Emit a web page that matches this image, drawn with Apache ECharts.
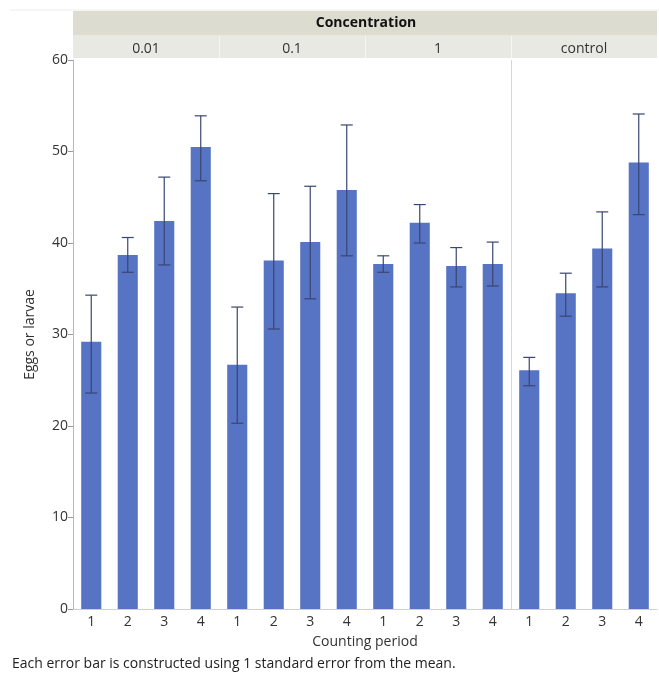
<!DOCTYPE html>
<html>
<head>
<meta charset="utf-8">
<script src="https://cdn.jsdelivr.net/npm/echarts@6/dist/echarts.min.js"></script>
<style>
  html, body { margin: 0; padding: 0; background: #fff; overflow: hidden; }
  #chart { width: 659px; height: 679px; }
</style>
</head>
<body>
<div id="chart"></div>
<script>
// groups and periods
const groups = ['0.01', '0.1', '1', 'control']
const periods = ['1', '2', '3', '4']

// means, one entry per (group, period)
const means = [
  29.2, 38.7, 42.4, 50.5,
  26.7, 38.1, 40.1, 45.8,
  37.7, 42.2, 37.5, 37.7,
  26.1, 34.5, 39.4, 48.8
]
// error bar ends (mean +/- 1 SE)
const upper = [
  34.3, 40.6, 47.2, 53.9,
  33.0, 45.4, 46.2, 52.9,
  38.6, 44.2, 39.5, 40.1,
  27.5, 36.7, 43.4, 54.1
]
const lower = [
  23.6, 36.8, 37.6, 46.8,
  20.3, 30.6, 33.9, 38.6,
  36.8, 40.0, 35.2, 35.3,
  24.4, 32.0, 35.2, 43.1
]

const yTicks = { min: 0, max: 60, interval: 10 }

let categories = []
groups.forEach(() => periods.forEach(p => categories.push(p)))

const font = '"Open Sans", "Noto Sans", sans-serif'

const chart = echarts.init(document.getElementById('chart'))

const option = {
  backgroundColor: '#fff',
  animation: false,
  textStyle: { fontFamily: font },
  grid: { left: 73, right: 2, top: 60, bottom: 70, show: false, borderWidth: 0 },
  graphic: [
    { type: 'line', shape: { x1: 10, y1: 10, x2: 659, y2: 10 }, style: { stroke: '#ececec', lineWidth: 1 } },
    { type: 'rect', shape: { x: 73, y: 11, width: 584, height: 24 }, style: { fill: '#dcdcd1' } },
    { type: 'rect', shape: { x: 73, y: 35, width: 584, height: 23 }, style: { fill: '#e9e9e3' } },
    // white strip at the far right edge of the plot
    { type: 'rect', shape: { x: 656, y: 58, width: 3, height: 550 }, style: { fill: '#fff' }, z: 100 },
    {
      type: 'text', x: 366, y: 23,
      style: { text: 'Concentration', font: 'bold 14px ' + font, fill: '#111', align: 'center', verticalAlign: 'middle' }
    },
    {
      type: 'text', x: 12, y: 664,
      style: { text: 'Each error bar is constructed using 1 standard error from the mean.', font: '14px ' + font, fill: '#222', verticalAlign: 'middle' }
    }
  ],
  xAxis: [
    {
      type: 'category',
      data: categories,
      name: 'Counting period',
      nameLocation: 'middle',
      nameGap: 26,
      nameTextStyle: { fontSize: 14, color: '#333' },
      axisLine: { lineStyle: { color: '#d0d0d0' } },
      axisTick: { show: false },
      axisLabel: { fontSize: 14, color: '#333', margin: 6 },
      splitLine: { show: false },
      splitArea: { show: false }
    },
    {
      type: 'category',
      data: groups,
      position: 'top',
      axisLine: { show: false },
      axisTick: { show: false },
      axisLabel: { fontSize: 14, color: '#333', margin: 4 },
      splitLine: { show: false },
      splitArea: { show: false }
    }
  ],
  yAxis: {
    type: 'value',
    min: yTicks.min,
    max: yTicks.max,
    interval: yTicks.interval,
    name: 'Eggs or larvae',
    nameLocation: 'middle',
    nameGap: 36,
    nameTextStyle: { fontSize: 14, color: '#333' },
    axisLine: { show: true, lineStyle: { color: '#b8b8b8' } },
    axisTick: { show: true, length: 5, lineStyle: { color: '#999' } },
    axisLabel: { fontSize: 14, color: '#333', margin: 5 },
    splitLine: { show: false }
  },
  series: [
    {
      type: 'bar',
      data: means,
      barWidth: '55%',
      itemStyle: { color: '#5673c4' }
    },
    {
      type: 'custom',
      data: means.map((m, i) => [i, lower[i], upper[i]]),
      z: 10,
      renderItem: function (params, api) {
        const idx = api.value(0)
        const top = api.coord([idx, api.value(2)])
        const bot = api.coord([idx, api.value(1)])
        const half = 6
        const st = { stroke: '#3a4670', lineWidth: 1.2 }
        return {
          type: 'group',
          children: [
            { type: 'line', shape: { x1: top[0], y1: top[1], x2: bot[0], y2: bot[1] }, style: st },
            { type: 'line', shape: { x1: top[0] - half, y1: top[1], x2: top[0] + half, y2: top[1] }, style: st },
            { type: 'line', shape: { x1: bot[0] - half, y1: bot[1], x2: bot[0] + half, y2: bot[1] }, style: st }
          ]
        }
      }
    }
  ]
}

option && chart.setOption(option)

// panel boundaries: light dividers in the sub-header, one thin line in the plot before "control"
const y0 = chart.convertToPixel({ yAxisIndex: 0 }, 0)
const y1 = chart.convertToPixel({ yAxisIndex: 0 }, 60)
;[4, 8, 12].forEach(k => {
  const a = chart.convertToPixel({ xAxisIndex: 0 }, k - 1)
  const b = chart.convertToPixel({ xAxisIndex: 0 }, k)
  const sx = Math.round((a + b) / 2) + 0.5
  option.graphic.push({
    type: 'line',
    shape: { x1: sx, y1: 36, x2: sx, y2: 58 },
    style: { stroke: '#f6f6f2', lineWidth: 1 }
  })
  if (k === 12) {
    option.graphic.push({
      type: 'line',
      shape: { x1: sx, y1: y1, x2: sx, y2: y0 },
      style: { stroke: '#d6d6d6', lineWidth: 1 },
      z: 0
    })
  }
})
chart.setOption({ graphic: option.graphic })
</script>
</body>
</html>
